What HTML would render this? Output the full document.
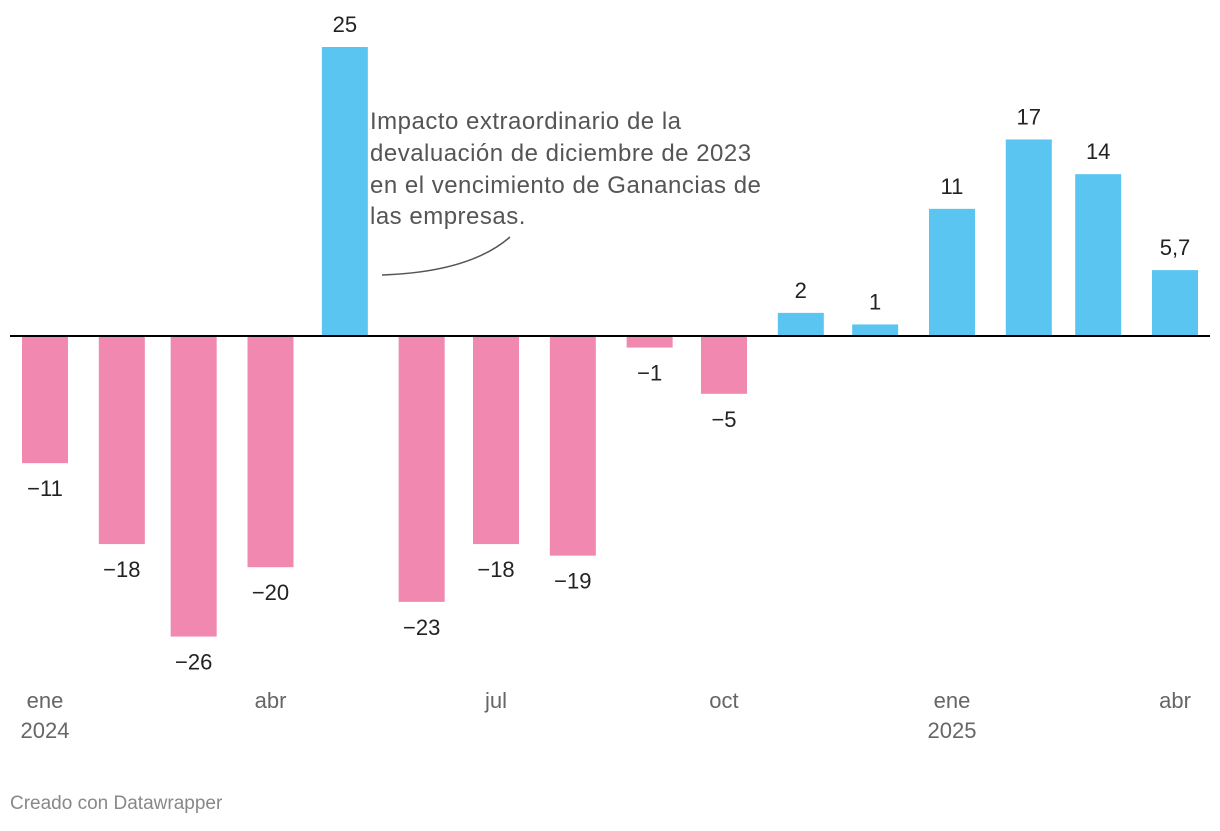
<!DOCTYPE html>
<html><head><meta charset="utf-8"><style>
body{margin:0;background:#fff;font-family:"Liberation Sans",sans-serif}
svg text{font-family:"Liberation Sans",sans-serif}
</style></head><body>
<svg id="chart" width="1220" height="826" xmlns="http://www.w3.org/2000/svg">
<g id="bars"></g>
<g id="labels"></g>
<line x1="10" x2="1210" y1="336" y2="336" stroke="#000" stroke-width="2"/>
<g id="xaxis"></g>
<text x="370" font-size="24" letter-spacing="0.5" fill="#555"><tspan x="370" y="129">Impacto extraordinario de la</tspan><tspan x="370" y="161">devaluación de diciembre de 2023</tspan><tspan x="370" y="193">en el vencimiento de Ganancias de</tspan><tspan x="370" y="224">las empresas.</tspan></text>
<path d="M382,275 Q470,272 510,237" fill="none" stroke="#555" stroke-width="1.5"/>
<text x="10" y="809" font-size="19" fill="#888">Creado con Datawrapper</text>
</svg>
<script>
const categories=["2024-01","2024-02","2024-03","2024-04","2024-05","2024-06","2024-07","2024-08","2024-09","2024-10","2024-11","2024-12","2025-01","2025-02","2025-03","2025-04"];
const values=[-11,-18,-26,-20,25,-23,-18,-19,-1,-5,2,1,11,17,14,5.7];
const valueLabels=["−11","−18","−26","−20","25","−23","−18","−19","−1","−5","2","1","11","17","14","5,7"];
const tickIdx=[0,3,6,9,12,15];
const tickLabels=["ene","abr","jul","oct","ene","abr"];
const yearLabels=["2024","","","","2025",""];
const NS="http://www.w3.org/2000/svg";
const day=c=>Date.UTC(+c.slice(0,4),+c.slice(5,7)-1,1)/864e5;
const d0=day(categories[0]),d1=day(categories[categories.length-1]);
const x=i=>45+(day(categories[i])-d0)*(1175-45)/(d1-d0);
const y=v=>336-v*11.56;
const bw=46;
const gb=document.getElementById('bars'),gl=document.getElementById('labels'),gx=document.getElementById('xaxis');
values.forEach((v,i)=>{
 const r=document.createElementNS(NS,'rect');
 
 
 r.setAttribute('x',x(i)-bw/2);r.setAttribute('width',bw);
 r.setAttribute('y',Math.min(y(v),y(0)));r.setAttribute('height',Math.abs(y(v)-y(0)));
 r.setAttribute('fill',v<0?'#f088b0':'#5bc5f2');
 gb.appendChild(r);
 const t=document.createElementNS(NS,'text');
 
 
 t.setAttribute('x',x(i));t.setAttribute('text-anchor','middle');t.setAttribute('font-size','22');t.setAttribute('fill','#222');
 t.setAttribute('y',v<0?y(v)+33:y(v)-15);
 t.textContent=valueLabels[i];gl.appendChild(t);
});
tickIdx.forEach((ci,k)=>{
 const t=document.createElementNS(NS,'text');
 
 
 t.setAttribute('x',x(ci));t.setAttribute('y',708);t.setAttribute('text-anchor','middle');t.setAttribute('font-size','22');t.setAttribute('fill','#666');
 t.textContent=tickLabels[k];gx.appendChild(t);
 if(yearLabels[k]){
 const u=document.createElementNS(NS,'text');
 
 
 u.setAttribute('x',x(ci));u.setAttribute('y',738);u.setAttribute('text-anchor','middle');u.setAttribute('font-size','22');u.setAttribute('fill','#666');
 u.textContent=yearLabels[k];gx.appendChild(u);}
});
</script>
</body></html>
